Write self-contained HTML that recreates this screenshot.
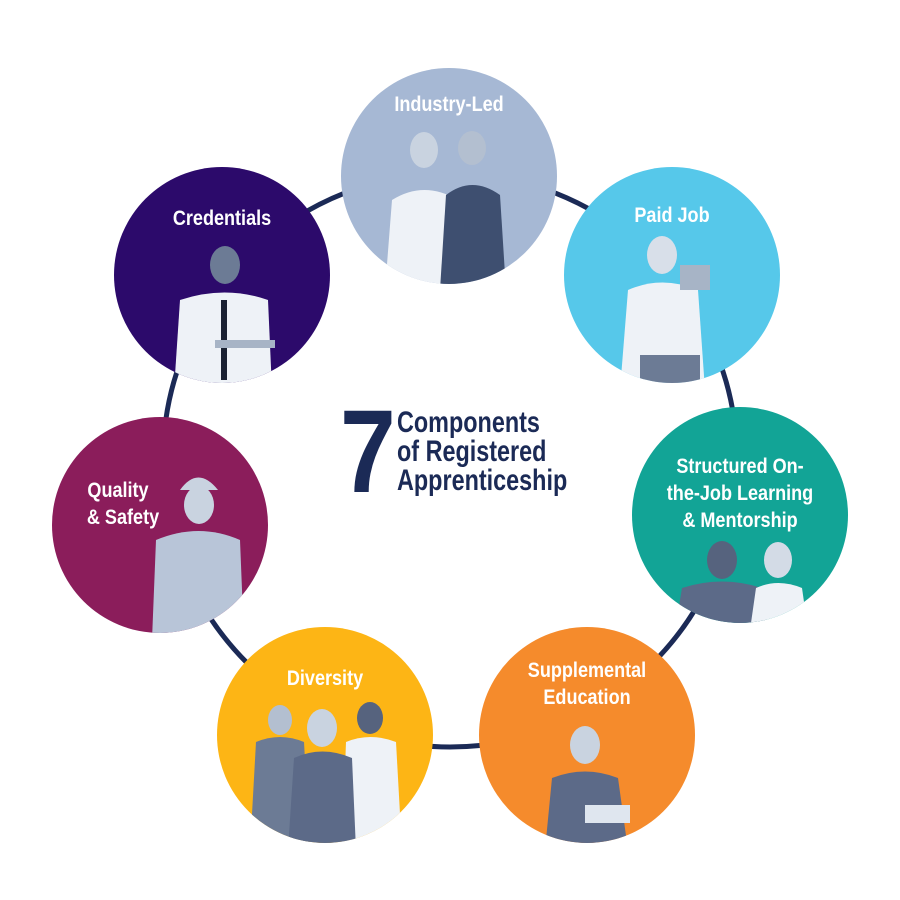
<!DOCTYPE html>
<html><head><meta charset="utf-8"><style>
html,body{margin:0;padding:0;background:#fff;width:900px;height:900px;overflow:hidden}
svg text{font-family:"Liberation Sans Narrow","Liberation Sans",sans-serif;font-weight:bold}
</style></head><body>
<svg width="900" height="900" viewBox="0 0 900 900" xmlns="http://www.w3.org/2000/svg">
<defs>
<clipPath id="c1"><circle cx="449" cy="176" r="108"/></clipPath>
<clipPath id="c2"><circle cx="672" cy="275" r="108"/></clipPath>
<clipPath id="c3"><circle cx="740" cy="515" r="108"/></clipPath>
<clipPath id="c4"><circle cx="587" cy="735" r="108"/></clipPath>
<clipPath id="c5"><circle cx="325" cy="735" r="108"/></clipPath>
<clipPath id="c6"><circle cx="160" cy="525" r="108"/></clipPath>
<clipPath id="c7"><circle cx="222" cy="275" r="108"/></clipPath>
</defs>
<circle cx="450" cy="460" r="287" fill="none" stroke="#1b2a56" stroke-width="5"/>

<circle cx="449" cy="176" r="108" fill="#a6b8d4"/>
<circle cx="672" cy="275" r="108" fill="#56c8ea"/>
<circle cx="740" cy="515" r="108" fill="#12a496"/>
<circle cx="587" cy="735" r="108" fill="#f58b2c"/>
<circle cx="325" cy="735" r="108" fill="#fdb515"/>
<circle cx="160" cy="525" r="108" fill="#8b1d5b"/>
<circle cx="222" cy="275" r="108" fill="#2c0a6b"/>

<g clip-path="url(#c1)">
<ellipse cx="424" cy="150" rx="14" ry="18" fill="#c9d3e0"/><path d="M385 290 L392 200 Q424 180 458 200 L462 290Z" fill="#eef2f7"/>
<ellipse cx="472" cy="148" rx="14" ry="17" fill="#b3bfd0"/><path d="M440 290 L446 195 Q472 175 500 195 L506 290Z" fill="#3e4f70"/>
</g>
<g clip-path="url(#c2)">
<ellipse cx="662" cy="255" rx="15" ry="19" fill="#d8dfe9"/><path d="M620 390 L628 290 Q662 275 698 290 L705 390Z" fill="#eef2f7"/>
<rect x="680" y="265" width="30" height="25" fill="#a7b4c6"/><rect x="640" y="355" width="60" height="30" fill="#6c7b95"/>
</g>
<g clip-path="url(#c3)">
<ellipse cx="722" cy="560" rx="15" ry="19" fill="#56637e"/><path d="M675 630 L682 588 Q722 575 762 588 L768 630Z" fill="#5c6a88"/>
<ellipse cx="778" cy="560" rx="14" ry="18" fill="#d3dbe6"/><path d="M750 630 L756 588 Q778 578 802 588 L808 630Z" fill="#eef2f7"/>
</g>
<g clip-path="url(#c4)">
<ellipse cx="585" cy="745" rx="15" ry="19" fill="#c9d3e0"/><path d="M545 850 L552 778 Q585 765 618 778 L628 850Z" fill="#5c6a88"/>
<rect x="585" y="805" width="45" height="18" fill="#dfe6ef"/>
</g>
<g clip-path="url(#c5)">
<ellipse cx="280" cy="720" rx="12" ry="15" fill="#b3bfd0"/><path d="M250 850 L256 742 Q280 732 304 742 L310 850Z" fill="#6c7b95"/>
<ellipse cx="370" cy="718" rx="13" ry="16" fill="#56637e"/><path d="M342 850 L346 742 Q370 732 396 742 L402 850Z" fill="#eef2f7"/>
<ellipse cx="322" cy="728" rx="15" ry="19" fill="#c9d3e0"/><path d="M288 850 L294 758 Q322 745 352 758 L356 850Z" fill="#5c6a88"/>
</g>
<g clip-path="url(#c6)">
<path d="M180 490 Q198 465 218 490Z" fill="#c9d3e0"/><ellipse cx="199" cy="505" rx="15" ry="19" fill="#c9d3e0"/>
<path d="M152 640 L156 540 Q199 522 240 540 L244 640Z" fill="#b8c5d8"/>
</g>
<g clip-path="url(#c7)">
<ellipse cx="225" cy="265" rx="15" ry="19" fill="#6c7b95"/>
<path d="M174 390 L180 300 Q225 285 268 300 L272 390Z" fill="#eef2f7"/>
<rect x="221" y="300" width="6" height="80" fill="#1b2233"/>
<rect x="215" y="340" width="60" height="8" fill="#a7b4c6"/>
</g>

<g fill="#fff" font-size="21" text-anchor="middle">
<text transform="translate(449 111) scale(0.86 1)">Industry-Led</text>
<text transform="translate(672 222) scale(0.86 1)">Paid Job</text>
<text transform="translate(740 473) scale(0.86 1)">Structured On-</text>
<text transform="translate(740 500) scale(0.86 1)">the-Job Learning</text>
<text transform="translate(740 527) scale(0.86 1)">&amp; Mentorship</text>
<text transform="translate(587 677) scale(0.86 1)">Supplemental</text>
<text transform="translate(587 704) scale(0.86 1)">Education</text>
<text transform="translate(325 685) scale(0.86 1)">Diversity</text>
<text transform="translate(118 497) scale(0.86 1)">Quality</text>
<text transform="translate(123 524) scale(0.86 1)">&amp; Safety</text>
<text transform="translate(222 225) scale(0.86 1)">Credentials</text>
</g>

<g fill="#1b2a56">
<text x="340" y="492" font-size="118" transform="translate(340 0) scale(0.85 1) translate(-340 0)">7</text>
<g font-size="30" transform="translate(397 0) scale(0.78 1) translate(-397 0)">
<text x="397" y="432">Components</text>
<text x="397" y="461">of Registered</text>
<text x="397" y="490">Apprenticeship</text>
</g>
</g>
</svg>
</body></html>
